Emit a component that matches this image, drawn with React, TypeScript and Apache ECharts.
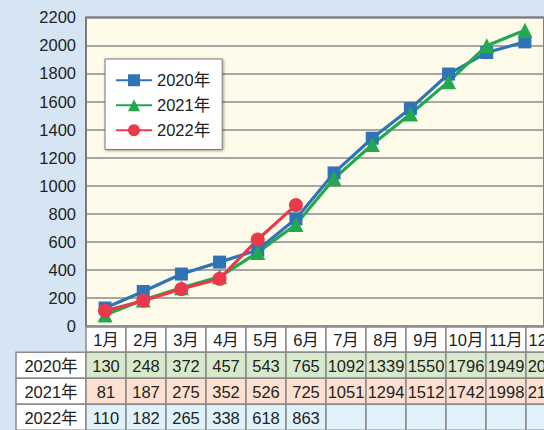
import React, { useEffect, useRef } from "react";
import * as echarts from "echarts";

const months = ["1月", "2月", "3月", "4月", "5月", "6月", "7月", "8月", "9月", "10月", "11月", "12月"];
const seriesNames = ["2020年", "2021年", "2022年"];
const values2020 = [130, 248, 372, 457, 543, 765, 1092, 1339, 1550, 1796, 1949, 2025];
const values2021 = [81, 187, 275, 352, 526, 725, 1051, 1294, 1512, 1742, 1998, 2108];
const values2022 = [110, 182, 265, 338, 618, 863];

const FONT = "'Liberation Sans', 'Noto Sans CJK JP', sans-serif";
const TXT = "#222";
const BORDER = "#8a8a8a";

const GRID_LEFT = 86;
const GRID_TOP = 17.3;
const COL_W = 40;
const GRID_H = 309;
const ROW_H = 26;
const LABEL_LEFT = 16;

export default function App() {
  const ref = useRef<HTMLDivElement>(null);
  useEffect(() => {
    if (!ref.current) return;
    const chart = echarts.init(ref.current, null, { renderer: "svg" });
    const colors = ["#2f74b5", "#22a94f", "#e83a4b"];
    const rowFills = ["#d9eacc", "#fde0cf", "#dff1fa"];
    const rows = [values2020, values2021, values2022];
    const tableTop = GRID_TOP + GRID_H;
    const font = `16.5px ${FONT}`;
    const graphic: any[] = [];
    // header row
    months.forEach((m, i) => {
      const x = GRID_LEFT + i * COL_W;
      graphic.push({
        type: "rect",
        shape: { x, y: tableTop, width: COL_W, height: ROW_H },
        style: { fill: "#ffffff", stroke: BORDER, lineWidth: 1.5 },
      });
      graphic.push({
        type: "text",
        x: x + COL_W / 2,
        y: tableTop + ROW_H / 2 + 1,
        style: { text: m, fill: TXT, font, align: "center", verticalAlign: "middle" },
      });
    });
    rows.forEach((vals, r) => {
      const y = tableTop + ROW_H * (r + 1);
      graphic.push({
        type: "rect",
        shape: { x: LABEL_LEFT, y, width: GRID_LEFT - LABEL_LEFT, height: ROW_H },
        style: { fill: "#ffffff", stroke: BORDER, lineWidth: 1.5 },
      });
      graphic.push({
        type: "text",
        x: (LABEL_LEFT + GRID_LEFT) / 2,
        y: y + ROW_H / 2 + 1,
        style: { text: seriesNames[r], fill: TXT, font, align: "center", verticalAlign: "middle" },
      });
      months.forEach((_, i) => {
        const x = GRID_LEFT + i * COL_W;
        graphic.push({
          type: "rect",
          shape: { x, y, width: COL_W, height: ROW_H },
          style: { fill: rowFills[r], stroke: BORDER, lineWidth: 1.5 },
        });
        if (vals[i] !== undefined) {
          graphic.push({
            type: "text",
            x: x + COL_W / 2,
            y: y + ROW_H / 2 + 1,
            style: { text: String(vals[i]), fill: TXT, font, align: "center", verticalAlign: "middle" },
          });
        }
      });
    });

    const mkSeries = (name: string, data: number[], color: string, symbol: string, size: number) => ({
      name,
      type: "line",
      data,
      symbol,
      symbolSize: size,
      showSymbol: true,
      lineStyle: { color, width: 3.2 },
      itemStyle: { color },
    });

    chart.setOption({
      animation: false,
      backgroundColor: "#d6e5f4",
      textStyle: { fontFamily: FONT },
      grid: {
        left: GRID_LEFT,
        top: GRID_TOP,
        width: COL_W * months.length,
        height: GRID_H,
        show: true,
        backgroundColor: "#fffbea",
        borderColor: "#555",
        borderWidth: 1.5,
      },
      legend: {
        orient: "vertical",
        left: 105,
        top: 59,
        data: seriesNames,
        backgroundColor: "#ffffff",
        borderColor: "#777",
        borderWidth: 1,
        padding: [13, 12, 11, 10],
        itemWidth: 36,
        itemHeight: 15,
        itemGap: 8.5,
        textStyle: { fontSize: 16.5, color: TXT, fontFamily: FONT, lineHeight: 16 },
        shadowBlur: 3,
        shadowColor: "rgba(0,0,0,0.35)",
        shadowOffsetX: 1,
        shadowOffsetY: 1,
      },
      xAxis: {
        type: "category",
        data: months,
        boundaryGap: true,
        axisLine: { show: false },
        axisTick: { show: false },
        axisLabel: { show: false },
      },
      yAxis: {
        type: "value",
        min: 0,
        max: 2200,
        interval: 200,
        axisLine: { show: false },
        axisTick: { show: false },
        axisLabel: {
          fontSize: 16.5,
          color: TXT,
          margin: 10,
          fontFamily: FONT,
          formatter: (v: number) => String(v),
        },
        splitLine: { lineStyle: { color: BORDER, width: 1.5 } },
      },
      series: [
        mkSeries(seriesNames[0], values2020, colors[0], "rect", 13),
        mkSeries(seriesNames[1], values2021, colors[1], "triangle", 15),
        mkSeries(seriesNames[2], values2022, colors[2], "circle", 14),
      ],
      graphic,
    });
    return () => chart.dispose();
  }, []);
  return (
    <div
      ref={ref}
      style={{ position: "fixed", left: 0, top: 0, width: 544, height: 430, overflow: "hidden" }}
    />
  );
}
